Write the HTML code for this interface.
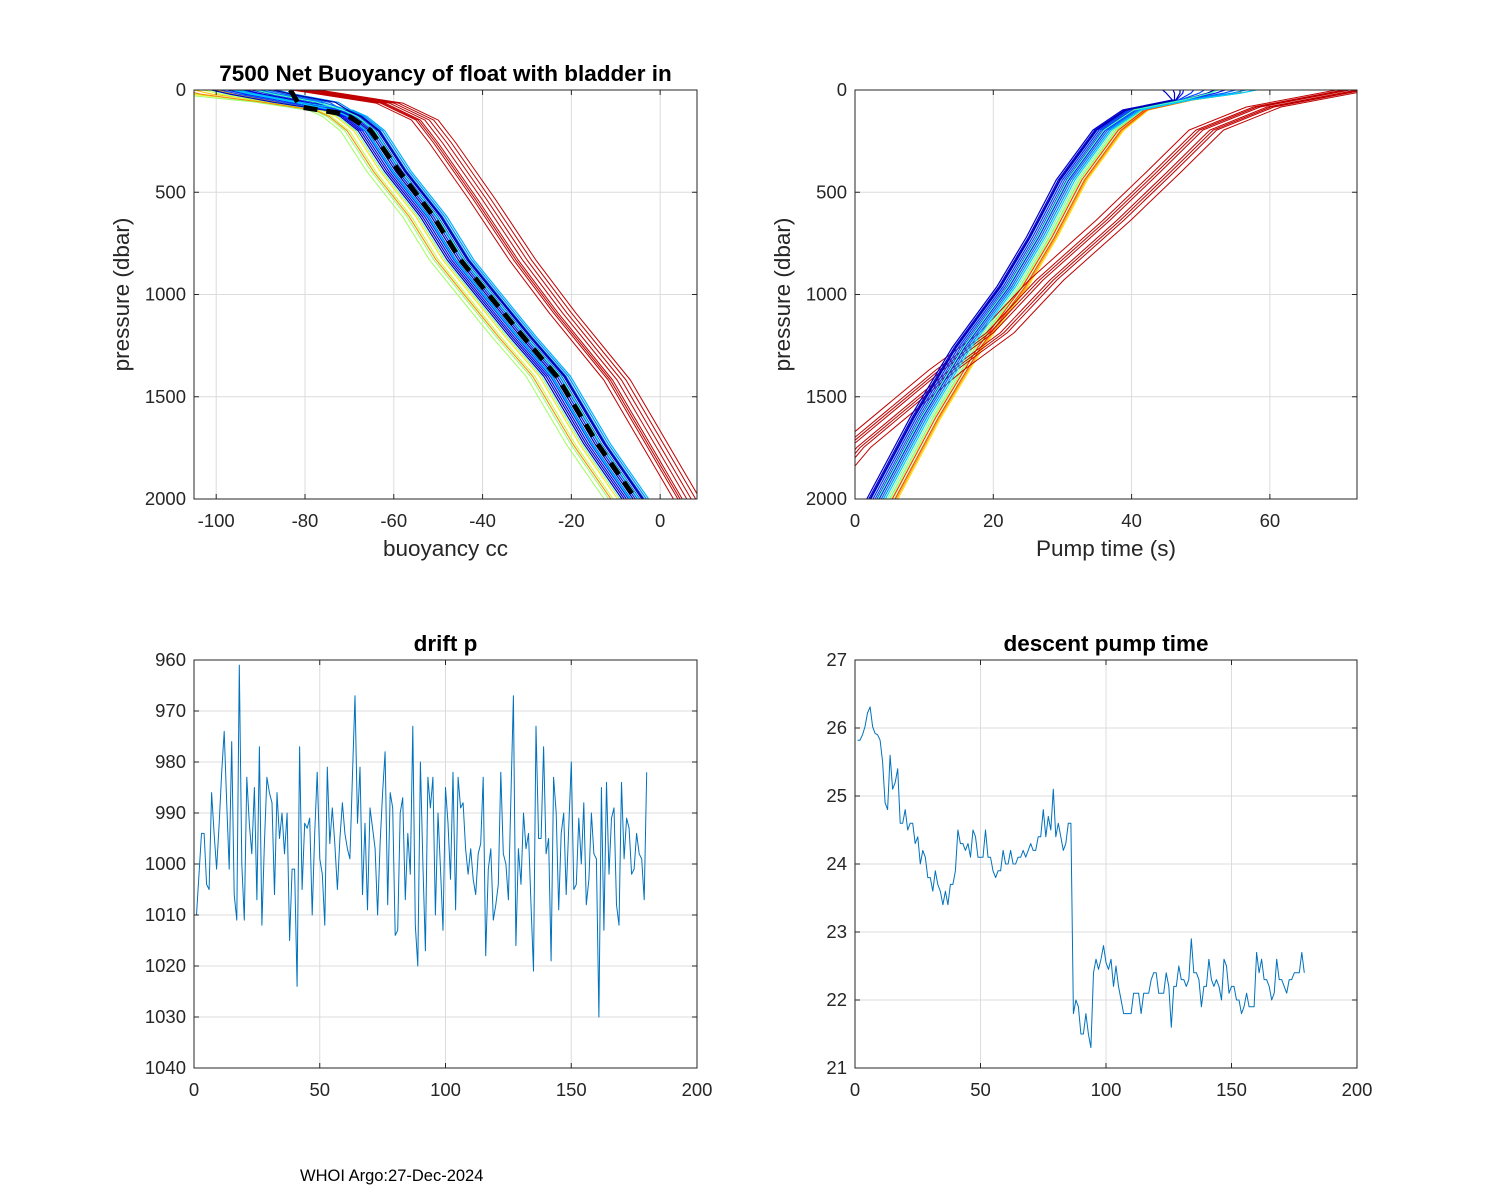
<!DOCTYPE html>
<html><head><meta charset="utf-8"><style>
html,body{margin:0;padding:0;background:#fff}
svg{display:block;font-family:"Liberation Sans",Arial,sans-serif}
</style></head><body>
<svg id="fig" width="1500" height="1200" viewBox="0 0 1500 1200">
<rect width="1500" height="1200" fill="#fff"/>
<text x="300" y="1181" font-size="16.5">WHOI Argo:27-Dec-2024</text>
</svg>
<script>
// ---- data: bottom-left drift pressure ----
const driftIdx = Array.from({length:180},(_,i)=>i+1);
const driftP = [1010,1002,994,994,1004,1005,986,994,1001,992,982,974,988,1001,976,1006,1011,961,1000,1011,983,992,998,985,1007,977,1012,996,983,986,988,1006,986,995,990,998,990,1015,1001,1001,1024,977,1005,992,993,991,1010,994,982,999,1002,1012,981,996,989,996,1005,995,988,994,997,999,983,967,992,981,1006,992,1009,989,993,997,1010,996,986,978,1008,986,989,1014,1013,990,987,1007,994,1002,973,1012,1020,980,1000,1017,983,989,983,1010,990,1001,1013,985,992,1003,982,1009,983,989,988,997,1002,997,1003,1006,998,996,983,1018,1001,997,1011,1008,1004,982,998,1000,1007,987,967,1016,997,1004,990,997,994,1008,1021,973,995,995,977,998,995,1019,983,990,1009,994,990,1006,993,980,1005,1004,991,1000,988,1008,1003,990,998,999,1030,985,1013,984,1002,991,989,1008,1012,984,999,991,993,1002,1001,994,998,999,1007,982];
// ---- data: bottom-right descent pump time ----
const pumpIdx = Array.from({length:179},(_,i)=>i+1);
const pumpT = [25.82,25.82,25.9,26.02,26.22,26.31,26.02,25.92,25.9,25.82,25.5,24.9,24.8,25.6,25.1,25.2,25.4,24.6,24.6,24.8,24.5,24.6,24.6,24.3,24.4,24.0,24.2,24.1,23.8,23.8,23.6,23.9,23.7,23.6,23.4,23.6,23.4,23.7,23.7,23.9,24.5,24.3,24.3,24.2,24.3,24.1,24.5,24.4,24.1,24.1,24.1,24.5,24.1,24.1,23.9,23.8,23.9,23.9,24.2,24.0,24.0,24.2,24.0,24.0,24.1,24.1,24.2,24.1,24.2,24.3,24.2,24.2,24.4,24.4,24.8,24.4,24.7,24.5,25.1,24.4,24.6,24.4,24.2,24.3,24.6,24.6,21.8,22.0,21.9,21.5,21.5,21.8,21.5,21.3,22.4,22.6,22.45,22.6,22.8,22.55,22.45,22.6,22.2,22.5,22.2,22.0,21.8,21.8,21.8,21.8,22.1,22.1,22.1,21.8,22.1,22.1,22.1,22.3,22.4,22.4,22.1,22.1,22.1,22.4,22.2,21.6,22.2,22.2,22.5,22.3,22.3,22.2,22.3,22.9,22.4,22.4,22.3,21.9,22.2,22.2,22.6,22.3,22.2,22.3,22.2,22.0,22.6,22.5,22.1,22.2,22.2,22.0,22.0,21.8,21.9,22.1,21.9,21.9,21.9,22.7,22.4,22.6,22.3,22.3,22.2,22.0,22.1,22.6,22.3,22.3,22.2,22.1,22.3,22.3,22.4,22.4,22.4,22.7,22.4];
// ---- data: top-left buoyancy profiles ----
const buoyP = [0,20,60,100,130,200,400,620,830,1010,1210,1400,1730,2000];
const buoyMain = [-98,-94,-84,-72,-69,-65,-59,-51,-45,-38.3,-30.8,-23.2,-14.2,-5.6];
const buoyRedP = [0,10,64,147,259,538,831,1090,1418,2000];
const buoyRed = [-80,-77,-61,-53,-49,-40,-31,-22,-9.7,6];
const buoyMeanP = [0,83,112,130,196,391,620,831,1010,1208,1403,1727,2000];
const buoyMean = [-83.3,-81,-72.7,-70,-65.3,-59,-51,-45,-38.3,-30.8,-23.2,-14.2,-5.5];
const buoyWarmOff = [-2,-3,-4,-5,-6,-7,-3.5,-5.5];
const buoyWarmCol = ['#ffa000','#ffc000','#ffe000','#c0ff40','#90ff70','#a0ff60','#70ff90','#ff8000'];
const buoyColdOff = [-3,-2.5,-2,-1.5,-1,-0.5,0,0.5,1,1.5,2,2.5,3,-1.2,0.8,1.8];
const buoyColdCol = ['#0000c8','#0000e0','#0010ff','#0030ff','#0050ff','#0000b0','#0020f0','#0060ff','#0040ff','#0000d0','#0070ff','#0090ff','#00b0ff','#00d0ff','#40ffc0','#0000a0'];
const buoyRedOff = [-3,-2,-1,0,1,2,3,-1.5];
// ---- data: top-right pump-time profiles ----
const pumpP = [0,15,49,98,196,440,719,963,1257,1600,2000];
const pumpMain = [52,51,47.4,40.2,35.9,30.6,26.3,22,15.6,9.5,3.2];
const pumpRedP = [0,83,196,406,636,929,1188,1369,1746,2000];
const pumpRed = [72.6,59.6,51.3,45,37.9,28.2,21,13.7,0.3,-6];
const pumpWarmOff = [1.5,2,2.5,3,2.2,2.8,1.8,2.6];
const pumpWarmCol = ['#90ff70','#c0ff40','#a0ff60','#ffe000','#ff2000','#ffa000','#70ff90','#ff4000'];
const pumpColdOff = [-1.5,-1.2,-0.9,-0.6,-0.3,0,0.3,0.6,0.9,1.2,-1,0.1];
const pumpColdCol = ['#0000c8','#0000e0','#0010ff','#0030ff','#0050ff','#0000b0','#0020f0','#0060ff','#0090ff','#00d0ff','#0000a0','#40ffc0'];
const pumpRedOff = [-3,-2,-1,0,1,2,-1.5,0.5];

const NS='http://www.w3.org/2000/svg';
const svg=document.getElementById('fig');
function el(tag,attrs,parent){const e=document.createElementNS(NS,tag);for(const k in attrs)e.setAttribute(k,attrs[k]);(parent||svg).appendChild(e);return e;}

function makeAxes(o){
  const g=el('g',{});
  
  
  const xs=v=>o.x0+(v-o.xmin)/(o.xmax-o.xmin)*(o.x1-o.x0);
  const ys=o.yrev?v=>o.y0+(v-o.ymin)/(o.ymax-o.ymin)*(o.y1-o.y0):v=>o.y1-(v-o.ymin)/(o.ymax-o.ymin)*(o.y1-o.y0);
  const grid=el('g',{stroke:'#dcdcdc','stroke-width':1},g);
  
  
  o.xt.forEach(t=>el('line',{x1:xs(t),x2:xs(t),y1:o.y0,y2:o.y1},grid));
  o.yt.forEach(t=>el('line',{x1:o.x0,x2:o.x1,y1:ys(t),y2:ys(t)},grid));
  const cid='clip'+o.name;
  const cp=el('clipPath',{id:cid},g);el('rect',{x:o.x0,y:o.y0,width:o.x1-o.x0,height:o.y1-o.y0},cp);
  const plot=el('g',{'clip-path':'url(#'+cid+')'},g);
  
  
  const ax=el('g',{stroke:'#262626','stroke-width':1,fill:'none'},g);
  
  
  el('rect',{x:o.x0,y:o.y0,width:o.x1-o.x0,height:o.y1-o.y0},ax);
  o.xt.forEach((t,i)=>{const x=xs(t);el('line',{x1:x,x2:x,y1:o.y1,y2:o.y1-5},ax);el('line',{x1:x,x2:x,y1:o.y0,y2:o.y0+5},ax);
    const tx=el('text',{x:x,y:o.y1+28,'text-anchor':'middle','font-size':18.5,fill:'#262626'},g);tx.textContent=o.xl[i];
    
    });
  o.yt.forEach((t,i)=>{const y=ys(t);el('line',{x1:o.x0,x2:o.x0+5,y1:y,y2:y},ax);el('line',{x1:o.x1,x2:o.x1-5,y1:y,y2:y},ax);
    const tx=el('text',{x:o.x0-8,y:y+6,'text-anchor':'end','font-size':18.5,fill:'#262626'},g);tx.textContent=o.yl[i];
    
    });
  if(o.title){const t=el('text',{x:(o.x0+o.x1)/2,y:o.y0-9,'text-anchor':'middle','font-size':22.5,'font-weight':'bold',fill:'#000'},g);t.textContent=o.title;
    
    }
  if(o.xlabel){const t=el('text',{x:(o.x0+o.x1)/2,y:o.y1+57,'text-anchor':'middle','font-size':22.5,fill:'#262626'},g);t.textContent=o.xlabel;
    
    }
  if(o.ylabel){const cy=(o.y0+o.y1)/2,cx=o.x0-65;const t=el('text',{x:cx,y:cy,'text-anchor':'middle','font-size':22.5,fill:'#262626',transform:'rotate(-90 '+cx+' '+cy+')'},g);t.textContent=o.ylabel;
    
    }
  return {xs,ys,plot};
}
function line(A,xv,yv,col,w,name,dash){
  const d=xv.map((v,i)=>(i?'L':'M')+A.xs(v).toFixed(1)+' '+A.ys(yv[i]).toFixed(1)).join('');
  const p=el('path',{d:d,fill:'none',stroke:col,'stroke-width':w,'stroke-linejoin':'round'},A.plot);
  if(dash)p.setAttribute('stroke-dasharray',dash);
  
  
  return p;
}

// top-left
const A1=makeAxes({name:'buoyancy-axes',x0:194,x1:697,y0:90,y1:499,xmin:-105,xmax:8.3,ymin:0,ymax:2000,yrev:true,
  xt:[-100,-80,-60,-40,-20,0],xl:['-100','-80','-60','-40','-20','0'],yt:[0,500,1000,1500,2000],yl:['0','500','1000','1500','2000'],
  title:'7500 Net Buoyancy of float with bladder in',xlabel:'buoyancy cc',ylabel:'pressure (dbar)'});
buoyWarmOff.forEach((off,i)=>line(A1,buoyMain.map((v,j)=>v+off-(j<2?4*(i%3):0)),buoyP,buoyWarmCol[i],1,'profile-warm'));
buoyRedOff.forEach(off=>line(A1,buoyRed.map(v=>v+off),buoyRedP,'#c00000',1,'profile-red'));
buoyColdOff.forEach((off,i)=>line(A1,buoyMain.map((v,j)=>v+off+(j<3?3*(i%4):0)),buoyP,buoyColdCol[i],1.2,'profile-cold'));
line(A1,buoyMean,buoyMeanP,'#000',5,'mean-profile','14 9');

// top-right
const A2=makeAxes({name:'pump-profile-axes',x0:855,x1:1357,y0:90,y1:499,xmin:0,xmax:72.6,ymin:0,ymax:2000,yrev:true,
  xt:[0,20,40,60],xl:['0','20','40','60'],yt:[0,500,1000,1500,2000],yl:['0','500','1000','1500','2000'],
  xlabel:'Pump time (s)',ylabel:'pressure (dbar)'});
pumpWarmOff.forEach((off,i)=>line(A2,pumpMain.map((v,j)=>v+off*Math.min(1,j/4)+(j<2?4:0)),pumpP,pumpWarmCol[i],1,'profile-warm'));
pumpRedOff.forEach(off=>line(A2,pumpRed.map(v=>v+off),pumpRedP,'#c00000',1,'profile-red'));
pumpColdOff.forEach((off,i)=>line(A2,pumpMain.map((v,j)=>v+off+(j===0?off*4:(j===1?off*3:0))),pumpP,pumpColdCol[i],1.2,'profile-cold'));

// bottom-left
const A3=makeAxes({name:'drift-axes',x0:194,x1:697,y0:660,y1:1068,xmin:0,xmax:200,ymin:960,ymax:1040,yrev:true,
  xt:[0,50,100,150,200],xl:['0','50','100','150','200'],yt:[960,970,980,990,1000,1010,1020,1030,1040],yl:['960','970','980','990','1000','1010','1020','1030','1040'],
  title:'drift p'});
line(A3,driftIdx,driftP,'#0072bd',1,'drift-line');

// bottom-right
const A4=makeAxes({name:'descent-axes',x0:855,x1:1357,y0:660,y1:1068,xmin:0,xmax:200,ymin:21,ymax:27,yrev:false,
  xt:[0,50,100,150,200],xl:['0','50','100','150','200'],yt:[21,22,23,24,25,26,27],yl:['21','22','23','24','25','26','27'],
  title:'descent pump time'});
line(A4,pumpIdx,pumpT,'#0072bd',1,'descent-line');
</script>
</body></html>
